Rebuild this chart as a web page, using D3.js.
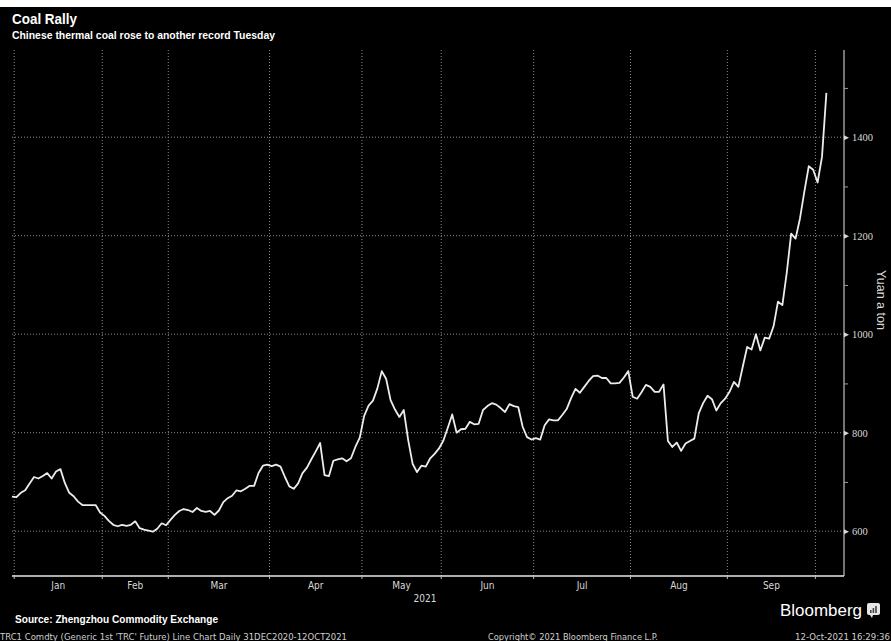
<!DOCTYPE html>
<html>
<head>
<meta charset="utf-8">
<script src="https://cdn.jsdelivr.net/npm/d3@7"></script>
<style>
html, body { margin: 0; padding: 0; background: #fff; }
svg { display: block; }
.tick text { font-family: "Liberation Serif", "DejaVu Serif", serif; }
</style>
</head>
<body>
<svg id="chart" width="891" height="641"></svg>
<script>
// month labels on the x axis
var monthLabels = ["Jan", "Feb", "Mar", "Apr", "May", "Jun", "Jul", "Aug", "Sep"];
// trading days: 31 Dec 2020, then Jan..Sep 2021, then Oct 2021
var tradingDays = [1, 20, 15, 23, 21, 18, 21, 22, 22, 20, 3];
var yTicks = [600, 800, 1000, 1200, 1400];
var yMinorTicks = [700, 900, 1100, 1300, 1500];

// TRC1 close, yuan a ton, one per trading day
var prices = [
  670, 669, 678, 683, 697, 710, 707, 712, 718, 707, 721, 726, 698, 678, 671, 660, 653, 653, 653, 653, 638,
  631, 621, 613, 610, 613, 611, 613, 620, 606, 603, 601, 599, 605, 616, 612,
  623, 633, 641, 645, 643, 639, 647, 641, 639, 641, 633, 642, 659, 667, 672, 683, 681, 686, 692, 692, 718, 733, 735,
  732, 735, 731, 710, 691, 686, 697, 718, 729, 746, 762, 779, 714, 712, 743, 746, 748, 742, 748, 771, 790,
  834, 855, 865, 890, 925, 909, 866, 847, 832, 846, 785, 737, 720, 733, 731, 748, 757, 768,
  784, 810, 837, 800, 807, 808, 822, 817, 818, 846, 854, 860, 857, 850, 842, 858, 854, 852, 812, 791, 786,
  789, 786, 815, 827, 825, 825, 836, 848, 870, 889, 881, 893, 905, 915, 916, 911, 911, 900, 900, 901, 912, 925,
  873, 869, 882, 897, 893, 883, 883, 898, 783, 771, 780, 763, 778, 783, 788, 839, 860, 875, 868, 845, 860, 869,
  883, 903, 893, 934, 974, 969, 1000, 967, 993, 991, 1016, 1066, 1059, 1125, 1204, 1194, 1235, 1290, 1341, 1334,
  1308, 1360, 1490
];

var svg = d3.select("#chart");
var W = 891, H = 641;
var plotLeft = 12, plotRight = 844, plotTop = 50, plotBottom = 576;

svg.append("rect")
  .attr("x", 0).attr("y", 7)
  .attr("width", W).attr("height", H - 7)
  .attr("fill", "#000");

var x = d3.scaleLinear()
  .domain([0, 189])
  .range([plotLeft, plotRight]);

var y = d3.scaleLinear()
  .domain([509, 1577])
  .range([plotBottom, plotTop]);

// month boundaries in trading-day index units
var bounds = [];
var acc = 0;
tradingDays.forEach(function(n) {
  bounds.push(acc - 0.5);
  acc += n;
});
bounds.push(acc - 0.5);
// bounds[1] = start of Jan, bounds[10] = start of Oct
var monthTicks = bounds.slice(1, 11);

// grid
var grid = svg.append("g").attr("class", "grid");

grid.selectAll(".hgrid")
  .data(yTicks)
  .enter()
  .append("line")
  .attr("x1", plotLeft).attr("x2", plotRight)
  .attr("y1", function(d) { return y(d); })
  .attr("y2", function(d) { return y(d); })
  .attr("stroke", "#8a8a8a")
  .attr("stroke-width", 1)
  .attr("stroke-dasharray", "1,2");

grid.selectAll(".vgrid")
  .data(monthTicks)
  .enter()
  .append("line")
  .attr("x1", function(d) { return Math.max(plotLeft, x(d)); })
  .attr("x2", function(d) { return Math.max(plotLeft, x(d)); })
  .attr("y1", plotTop).attr("y2", plotBottom)
  .attr("stroke", "#8a8a8a")
  .attr("stroke-width", 1)
  .attr("stroke-dasharray", "1,2");

// right axis
var yAxis = d3.axisRight(y)
  .tickValues(yTicks)
  .tickFormat(d3.format("d"))
  .tickSize(0)
  .tickPadding(8);

var ya = svg.append("g")
  .attr("transform", "translate(" + plotRight + ",0)")
  .call(yAxis);

ya.select(".domain")
  .attr("d", "M0," + plotTop + "V" + plotBottom)
  .attr("stroke", "#9a9a9a")
  .attr("stroke-width", 1.5);

ya.selectAll(".tick text")
  .attr("fill", "#d8d8d8")
  .attr("font-size", 10.5);

ya.selectAll(".tick")
  .append("path")
  .attr("d", "M0,-2.5L5,0L0,2.5Z")
  .attr("fill", "#d8d8d8");

svg.append("g")
  .attr("transform", "translate(" + plotRight + ",0)")
  .call(d3.axisRight(y).tickValues(yMinorTicks).tickSize(4).tickFormat(""))
  .call(function(g) {
    g.select(".domain").remove();
    g.selectAll(".tick line").attr("stroke", "#9a9a9a");
  });

svg.append("text")
  .attr("transform", "translate(877,300)rotate(90)")
  .attr("text-anchor", "middle")
  .attr("font-family", "Liberation Sans, Arial, sans-serif")
  .attr("font-size", 12.5)
  .attr("fill", "#d8d8d8")
  .text("Yuan a ton");

// bottom axis
svg.append("line")
  .attr("x1", plotLeft).attr("x2", plotRight)
  .attr("y1", plotBottom).attr("y2", plotBottom)
  .attr("stroke", "#e8e8e8")
  .attr("stroke-width", 1.5);

svg.selectAll(".xtick")
  .data(monthTicks)
  .enter()
  .append("line")
  .attr("x1", function(d) { return x(d); })
  .attr("x2", function(d) { return x(d); })
  .attr("y1", plotBottom).attr("y2", plotBottom + 3)
  .attr("stroke", "#bbb");

svg.selectAll(".xlabel")
  .data(monthLabels)
  .enter()
  .append("text")
  .attr("x", function(d, i) { return (x(monthTicks[i]) + x(monthTicks[i + 1])) / 2; })
  .attr("y", plotBottom + 13)
  .attr("text-anchor", "middle")
  .attr("font-family", "DejaVu Sans Condensed, Liberation Sans Narrow, sans-serif")
  .attr("font-size", 10)
  .attr("fill", "#d8d8d8")
  .text(function(d) { return d; });

svg.append("text")
  .attr("x", 425).attr("y", plotBottom + 26)
  .attr("text-anchor", "middle")
  .attr("font-family", "DejaVu Sans Condensed, Liberation Sans Narrow, sans-serif")
  .attr("font-size", 10)
  .attr("fill", "#d8d8d8")
  .text("2021");

// price line
var line = d3.line()
  .x(function(d, i) { return x(i); })
  .y(function(d) { return y(d); });

svg.append("path")
  .datum(prices)
  .attr("d", line)
  .attr("fill", "none")
  .attr("stroke", "#ececec")
  .attr("stroke-width", 1.8)
  .attr("stroke-linejoin", "round");

// titles
svg.append("text")
  .attr("x", 12).attr("y", 24)
  .attr("font-family", "Liberation Sans, Arial, sans-serif")
  .attr("font-weight", "bold")
  .attr("font-size", 15)
  .attr("textLength", 65)
  .attr("lengthAdjust", "spacingAndGlyphs")
  .attr("fill", "#fff")
  .text("Coal Rally");

svg.append("text")
  .attr("x", 12).attr("y", 39)
  .attr("font-family", "Liberation Sans, Arial, sans-serif")
  .attr("font-weight", "bold")
  .attr("font-size", 10)
  .attr("textLength", 263)
  .attr("lengthAdjust", "spacingAndGlyphs")
  .attr("fill", "#fff")
  .text("Chinese thermal coal rose to another record Tuesday");

// footer
svg.append("text")
  .attr("x", 15).attr("y", 623)
  .attr("font-family", "Liberation Sans, Arial, sans-serif")
  .attr("font-weight", "bold")
  .attr("font-size", 10.5)
  .attr("textLength", 203)
  .attr("lengthAdjust", "spacingAndGlyphs")
  .attr("fill", "#fff")
  .text("Source: Zhengzhou Commodity Exchange");

var small = [
  { t: "TRC1 Comdty (Generic 1st 'TRC' Future) Line Chart  Daily 31DEC2020-12OCT2021", x: 0, len: 347 },
  { t: "Copyright\u00a9 2021 Bloomberg Finance L.P.", x: 488, len: 170 },
  { t: "12-Oct-2021 16:29:36", x: 795, len: 95 }
];
svg.selectAll(".small")
  .data(small)
  .enter()
  .append("text")
  .attr("x", function(d) { return d.x; })
  .attr("y", 640)
  .attr("font-family", "DejaVu Sans Condensed, Liberation Sans Narrow, sans-serif")
  .attr("font-size", 9)
  .attr("textLength", function(d) { return d.len; })
  .attr("lengthAdjust", "spacingAndGlyphs")
  .attr("fill", "#cfcfcf")
  .text(function(d) { return d.t; });

svg.append("text")
  .attr("x", 780).attr("y", 616)
  .attr("font-family", "Liberation Sans, Arial, sans-serif")
  .attr("font-size", 17)
  .attr("textLength", 82)
  .attr("lengthAdjust", "spacingAndGlyphs")
  .attr("fill", "#fff")
  .text("Bloomberg");

var logo = svg.append("g").attr("transform", "translate(867,603)");
logo.append("rect")
  .attr("width", 13).attr("height", 12).attr("rx", 2)
  .attr("fill", "#e6e6e6");
logo.append("path")
  .attr("d", "M3,12L5,15L6,12Z")
  .attr("fill", "#e6e6e6");
logo.selectAll(".bar")
  .data([3, 5, 7])
  .enter()
  .append("rect")
  .attr("x", function(d, i) { return 3 + i * 2.6; })
  .attr("y", function(d) { return 10 - d; })
  .attr("width", 1.6)
  .attr("height", function(d) { return d; })
  .attr("fill", "#444");
</script>
</body>
</html>
